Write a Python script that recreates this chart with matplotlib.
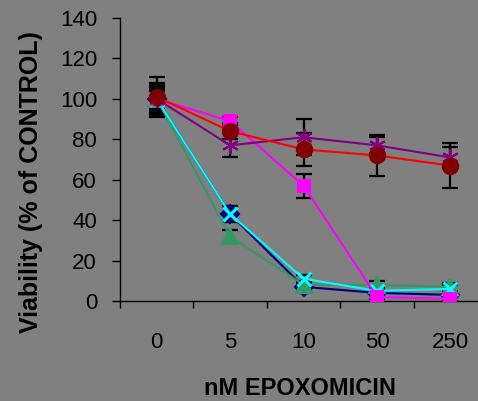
import matplotlib
matplotlib.use("Agg")
import matplotlib.pyplot as plt
import numpy as np

plt.rcParams['font.family'] = ['Liberation Sans', 'DejaVu Sans']

doses = ["0", "5", "10", "50", "250"]

navy_vals = [100, 43, 7, 4, 3]
navy_err = [5, 4, 2, 1, 1]
green_vals = [100, 32, 8, 8, 7]
green_err = [6, 3, 2, 2, 2]
cyan_vals = [100, 43, 11, 5, 6]
cyan_err = [7, 4, 2, 2, 2]
magenta_vals = [100, 89, 57, 2, 1]
magenta_err = [4, 2, 6, 1, 1]
purple_vals = [100, 77, 81, 77, 71]
purple_err = [8, 6, 9, 4, 5]
red_vals = [101, 84, 75, 72, 67]
red_err = [10, 4, 8, 10, 11]

bg = "#808080"
fig = plt.figure(figsize=(4.78, 4.01), dpi=100, facecolor=bg)
ax = fig.add_axes([0.251, 0.2494, 0.768, 0.7057], facecolor=bg)

x = np.arange(len(doses))

series = [
    (navy_vals, navy_err, "#000080", "#000080", "D", 9, 1.5),
    (green_vals, green_err, "#339966", "#339966", "^", 11, 1.5),
    (cyan_vals, cyan_err, "#00FFFF", "#00FFFF", "x", 10, 2.2),
    (magenta_vals, magenta_err, "#FF00FF", "#FF00FF", "s", 9, 1.5),
    (purple_vals, purple_err, "#800080", "#800080", (6, 2, 0), 12, 1.5),
    (red_vals, red_err, "#FF0000", "#800000", "o", 11, 1.5),
]

for i, (vals, err, lc, mc, mk, ms, mew) in enumerate(series):
    ax.errorbar(x, vals, yerr=err, fmt="none", ecolor="black", elinewidth=1.6,
                capsize=6, capthick=1.6, zorder=2 + i * 0.1)
    ax.plot(x, vals, color=lc, lw=1.5, zorder=3 + i * 0.1)
    ax.plot(x, vals, linestyle="none", marker=mk, markersize=ms,
            markerfacecolor=mc, markeredgecolor=mc, markeredgewidth=mew,
            zorder=3.05 + i * 0.1)

ax.set_xlim(-0.5, 4.5)
ax.set_ylim(0, 140)
ax.set_yticks(np.arange(0, 141, 20))
ax.tick_params(axis="y", direction="out", length=5.5, width=1, labelsize=16,
               pad=11, colors="black")

ax.set_xticks(np.arange(-0.5, 4.5, 1.0))
ax.set_xticklabels([])
ax.tick_params(axis="x", which="major", direction="out", length=5, width=1)
ax.set_xticks(x, minor=True)
ax.set_xticklabels(doses, minor=True)
ax.tick_params(axis="x", which="minor", length=0, labelsize=16, pad=22)

for s in ["top", "right"]:
    ax.spines[s].set_visible(False)
for s in ["left", "bottom"]:
    ax.spines[s].set_color("black")
    ax.spines[s].set_linewidth(1)

fig.text(0.065, 0.545, "Viability (% of CONTROL)", rotation=90, ha="center",
         va="center", fontsize=18, fontweight="bold")
fig.text(0.628, 0.03, "nM EPOXOMICIN", ha="center", va="center",
         fontsize=17, fontweight="bold")

fig.savefig("out.png", dpi=100, facecolor=bg)
